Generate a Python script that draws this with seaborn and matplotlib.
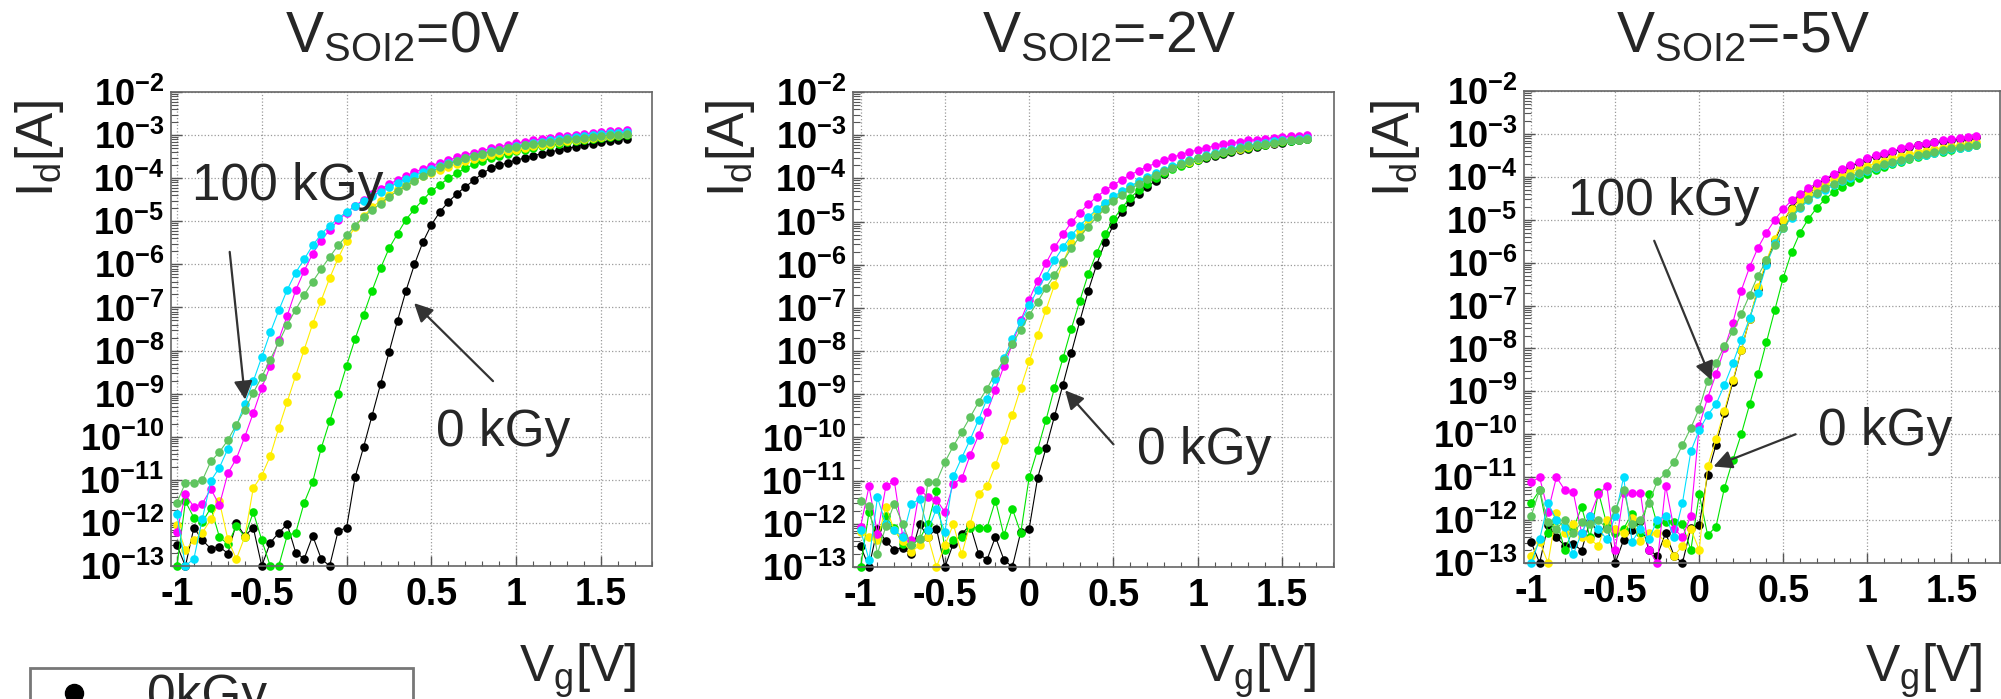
import numpy as np
import pandas as pd
import seaborn as sns
import matplotlib.pyplot as plt
from matplotlib.lines import Line2D
from matplotlib.ticker import LogLocator, MultipleLocator, NullFormatter

# gate sweep, 50 mV steps
vg = np.round(np.arange(-1.0, 1.651, 0.05), 2)

# log10(Id)
# 0 kGy is the same sweep in the first two panels
black_all = [-12.52, -13.0, -12.11, -12.4, -12.6, -12.55, -12.71, -12.01, -12.3, -12.11,
             -13.0, -12.46, -12.23, -12.03, -12.69, -12.83, -12.3, -12.83, -13.0, -12.19,
             -12.11, -10.94, -10.24, -9.51, -8.78, -8.04, -7.31, -6.61, -6.0, -5.48,
             -5.08, -4.78, -4.55, -4.36, -4.2, -4.05, -3.89, -3.77, -3.7, -3.64,
             -3.58, -3.53, -3.48, -3.43, -3.39, -3.35, -3.31, -3.27, -3.23, -3.2,
             -3.17, -3.14, -3.11, -3.08]
# in the third panel the upper part of 0 kGy is hidden under the magenta curve
black_p3 = [-12.52, -13.0, -12.11, -12.4, -12.6, -12.55, -12.71, -12.01, -12.3, -12.11,
            -13.0, -12.46, -12.23, -12.03, -12.69, -12.83, -12.3, -12.83, -13.0, -12.19,
            -12.11, -10.94, -10.24, -9.51, -8.78, -8.04, -7.31, -6.61, -6.0, -5.48,
            -5.05, -4.72, -4.5, -4.33, -4.18, -4.07, -3.95, -3.84, -3.75, -3.67,
            -3.59, -3.52, -3.46, -3.41, -3.36, -3.31, -3.27, -3.23, -3.2, -3.17,
            -3.14, -3.12, -3.1, -3.08]

# V_SOI2 = 0 V
p1_green = [-13.0, -11.5, -11.88, -11.98, -11.65, -12.32, -12.5, -12.07, -12.32, -11.75,
            -12.4, -13.0, -13.0, -12.29, -12.23, -11.53, -11.05, -10.27, -9.64, -9.0,
            -8.35, -7.73, -7.17, -6.61, -6.09, -5.63, -5.29, -4.96, -4.72, -4.5,
            -4.3, -4.15, -4.0, -3.88, -3.77, -3.68, -3.6, -3.54, -3.48, -3.43,
            -3.38, -3.34, -3.3, -3.26, -3.23, -3.2, -3.17, -3.14, -3.11, -3.08,
            -3.06, -3.04, -3.02, -3.0]
p1_yellow = [-12.05, -12.63, -12.4, -12.23, -11.91, -11.5, -12.38, -12.84, -12.32, -11.19,
             -10.9, -10.45, -9.8, -9.19, -8.58, -7.98, -7.38, -6.84, -6.32, -5.86,
             -5.45, -5.13, -4.88, -4.68, -4.52, -4.38, -4.26, -4.15, -4.05, -3.96,
             -3.88, -3.8, -3.73, -3.67, -3.61, -3.56, -3.51, -3.46, -3.42, -3.38,
             -3.34, -3.3, -3.26, -3.23, -3.2, -3.17, -3.14, -3.11, -3.09, -3.06,
             -3.04, -3.02, -3.0, -2.98]
p1_magenta = [-12.2, -11.34, -11.63, -11.55, -11.21, -11.59, -10.85, -10.51, -10.0, -9.45,
              -8.87, -8.35, -7.75, -7.19, -6.6, -6.15, -5.75, -5.45, -5.2, -4.98,
              -4.8, -4.64, -4.5, -4.37, -4.25, -4.14, -4.04, -3.95, -3.86, -3.78,
              -3.71, -3.64, -3.58, -3.52, -3.46, -3.41, -3.36, -3.31, -3.27, -3.23,
              -3.19, -3.15, -3.12, -3.09, -3.06, -3.03, -3.01, -2.99, -2.97, -2.95,
              -2.93, -2.91, -2.9, -2.88]
p1_cyan = [-11.8, -13.0, -12.83, -11.9, -11.02, -10.72, -10.28, -9.76, -9.23, -8.71,
           -8.15, -7.58, -7.07, -6.59, -6.19, -5.88, -5.56, -5.3, -5.1, -4.93,
           -4.78, -4.65, -4.53, -4.42, -4.31, -4.21, -4.11, -4.02, -3.94, -3.86,
           -3.79, -3.72, -3.65, -3.59, -3.53, -3.48, -3.43, -3.38, -3.34, -3.29,
           -3.25, -3.22, -3.18, -3.15, -3.12, -3.09, -3.07, -3.04, -3.02, -3.0,
           -2.98, -2.96, -2.95, -2.93]
p1_100k = [-11.53, -11.07, -11.07, -11.01, -10.57, -10.36, -10.08, -9.72, -9.37, -8.98,
           -8.61, -8.21, -7.81, -7.4, -7.05, -6.71, -6.4, -6.11, -5.83, -5.56,
           -5.33, -5.1, -4.9, -4.74, -4.59, -4.43, -4.3, -4.19, -4.06, -3.95,
           -3.85, -3.75, -3.67, -3.6, -3.54, -3.48, -3.43, -3.39, -3.35, -3.31,
           -3.27, -3.24, -3.21, -3.18, -3.15, -3.13, -3.1, -3.08, -3.06, -3.04,
           -3.02, -3.0, -2.99, -2.97]

# V_SOI2 = -2 V
p2_green = [-13.0, -11.73, -12.3, -11.83, -12.1, -12.47, -12.5, -12.35, -12.0, -11.24,
            -12.6, -12.38, -12.3, -12.09, -12.09, -12.09, -11.46, -12.27, -11.65, -12.21,
            -10.92, -10.28, -9.59, -8.85, -8.17, -7.48, -6.84, -6.22, -5.73, -5.3,
            -4.95, -4.68, -4.45, -4.27, -4.12, -3.99, -3.88, -3.79, -3.71, -3.64,
            -3.57, -3.51, -3.46, -3.41, -3.37, -3.33, -3.29, -3.25, -3.22, -3.19,
            -3.16, -3.13, -3.11, -3.08]
p2_yellow = [-12.19, -12.3, -12.38, -11.6, -12.15, -12.4, -12.65, -12.5, -12.3, -13.0,
             -12.5, -12.01, -12.71, -12.0, -11.3, -11.13, -10.64, -10.07, -9.47, -8.85,
             -8.24, -7.63, -7.04, -6.47, -5.95, -5.5, -5.2, -4.95, -4.75, -4.58,
             -4.45, -4.32, -4.2, -4.09, -3.99, -3.9, -3.82, -3.74, -3.67, -3.61,
             -3.55, -3.49, -3.44, -3.39, -3.35, -3.31, -3.27, -3.23, -3.2, -3.17,
             -3.14, -3.11, -3.09, -3.07]
p2_magenta = [-12.07, -11.13, -12.23, -11.13, -11.01, -12.29, -12.37, -11.21, -11.38, -11.44,
              -11.73, -11.07, -10.95, -10.41, -9.95, -9.41, -8.89, -8.35, -7.84, -7.29,
              -6.81, -6.37, -5.96, -5.6, -5.3, -5.02, -4.8, -4.6, -4.43, -4.28,
              -4.15, -4.03, -3.92, -3.82, -3.73, -3.65, -3.58, -3.51, -3.45, -3.39,
              -3.34, -3.29, -3.25, -3.21, -3.18, -3.15, -3.12, -3.1, -3.08, -3.06,
              -3.04, -3.02, -3.01, -3.0]
p2_cyan = [-12.15, -12.83, -11.39, -12.0, -12.14, -12.3, -11.55, -11.42, -12.15, -11.65,
           -12.19, -10.9, -10.47, -10.05, -9.59, -9.1, -8.64, -8.17, -7.73, -7.32,
           -6.94, -6.58, -6.25, -5.9, -5.6, -5.32, -5.1, -4.9, -4.72, -4.56,
           -4.42, -4.3, -4.18, -4.07, -3.97, -3.88, -3.8, -3.72, -3.65, -3.58,
           -3.52, -3.46, -3.41, -3.36, -3.31, -3.27, -3.23, -3.2, -3.17, -3.14,
           -3.12, -3.1, -3.08, -3.06]
p2_100k = [-11.46, -11.59, -12.69, -12.06, -11.53, -12.01, -12.5, -12.34, -11.03, -11.03,
           -10.57, -10.2, -9.87, -9.53, -9.18, -8.87, -8.51, -8.2, -7.84, -7.5,
           -7.17, -6.86, -6.53, -6.24, -5.93, -5.62, -5.35, -5.12, -4.9, -4.7,
           -4.52, -4.38, -4.25, -4.13, -4.02, -3.92, -3.83, -3.75, -3.67, -3.6,
           -3.54, -3.48, -3.43, -3.38, -3.34, -3.3, -3.26, -3.23, -3.2, -3.17,
           -3.14, -3.12, -3.1, -3.08]

# V_SOI2 = -5 V
p3_green = [-11.6, -11.3, -12.3, -12.0, -12.7, -12.2, -11.7, -12.4, -11.35, -12.1,
            -12.3, -12.2, -11.85, -12.3, -11.4, -12.1, -12.05, -12.05, -12.1, -12.7,
            -11.4, -12.35, -12.15, -11.25, -10.6, -10.0, -9.3, -8.6, -7.85, -7.1,
            -6.35, -5.75, -5.3, -4.98, -4.72, -4.52, -4.36, -4.23, -4.12, -4.02,
            -3.93, -3.85, -3.78, -3.71, -3.65, -3.59, -3.54, -3.49, -3.45, -3.41,
            -3.37, -3.33, -3.3, -3.27]
p3_yellow = [-12.83, -12.5, -13.0, -11.83, -12.3, -12.1, -12.4, -12.45, -12.6, -12.0,
             -12.2, -12.3, -11.95, -12.49, -12.3, -12.3, -12.53, -12.83, -12.6, -12.2,
             -12.7, -10.75, -10.12, -9.45, -8.74, -8.04, -7.31, -6.57, -5.95, -5.45,
             -5.0, -4.75, -4.55, -4.4, -4.27, -4.16, -4.06, -3.97, -3.89, -3.82,
             -3.75, -3.68, -3.62, -3.57, -3.52, -3.47, -3.43, -3.39, -3.35, -3.32,
             -3.29, -3.26, -3.23, -3.2]
p3_magenta = [-11.12, -11.0, -11.8, -11.0, -11.3, -11.35, -12.3, -11.9, -11.4, -11.2,
              -12.7, -11.37, -11.37, -11.37, -12.7, -13.0, -11.2, -12.2, -12.4, -11.9,
              -9.8, -9.15, -8.6, -8.0, -7.4, -6.65, -6.1, -5.65, -5.3, -5.0,
              -4.75, -4.55, -4.4, -4.27, -4.14, -4.04, -3.93, -3.82, -3.73, -3.65,
              -3.57, -3.5, -3.44, -3.39, -3.34, -3.29, -3.25, -3.21, -3.18, -3.15,
              -3.12, -3.1, -3.08, -3.06]
p3_cyan = [-13.0, -12.45, -11.6, -12.0, -12.15, -12.8, -12.3, -11.9, -12.2, -12.45,
           -11.9, -11.0, -12.5, -12.2, -12.45, -12.0, -11.9, -12.4, -11.6, -10.4,
           -9.9, -9.55, -9.3, -8.85, -8.35, -7.8, -7.3, -6.7, -6.05, -5.55,
           -5.2, -4.95, -4.73, -4.55, -4.41, -4.3, -4.2, -4.1, -4.02, -3.94,
           -3.86, -3.79, -3.73, -3.67, -3.62, -3.57, -3.52, -3.48, -3.44, -3.4,
           -3.36, -3.33, -3.3, -3.27]
p3_100k = [-11.9, -11.3, -12.05, -12.2, -12.0, -12.3, -12.05, -12.1, -12.0, -12.2,
           -11.75, -11.3, -12.1, -12.0, -11.6, -11.1, -10.9, -10.65, -10.25, -9.85,
           -9.4, -8.75, -8.35, -7.95, -7.6, -7.2, -6.75, -6.3, -5.95, -5.6,
           -5.2, -4.92, -4.7, -4.52, -4.38, -4.26, -4.16, -4.07, -3.99, -3.91,
           -3.84, -3.77, -3.71, -3.65, -3.6, -3.55, -3.5, -3.46, -3.42, -3.38,
           -3.34, -3.31, -3.28, -3.25]

# titles as plain text, only the subscript goes through mathtext
titles = ["V$_{\\mathregular{SOI2}}$=0V", "V$_{\\mathregular{SOI2}}$=-2V",
          "V$_{\\mathregular{SOI2}}$=-5V"]
order = ["0kGy", "green", "yellow", "magenta", "cyan", "100kGy"]
palette = {"0kGy": "#000000", "green": "#00e400", "yellow": "#ffee00",
           "magenta": "#ff00ff", "cyan": "#00e0ff", "100kGy": "#5fc45f"}

panels = [
    [black_all, p1_green, p1_yellow, p1_magenta, p1_cyan, p1_100k],
    [black_all, p2_green, p2_yellow, p2_magenta, p2_cyan, p2_100k],
    [black_p3, p3_green, p3_yellow, p3_magenta, p3_cyan, p3_100k],
]

# pixel layout of the original canvas (2001 x 699)
W, H = 2001, 699
boxes = [(171, 652, 92, 566), (853, 1334, 92, 567), (1524, 2000, 91, 563)]
xlims = [(-1.035, 1.80), (-1.045, 1.808), (-1.043, 1.79)]
title_x = [285, 982, 1616]
ylab_x = [40, 730, 1395]
xlab_right = [636, 1316, 1982]

# text labels with arrows: (text, x, log y, tail, tip)
notes = [
    [("100 kGy", -0.909, -4.51, (-0.689, -5.71), (-0.598, -9.14)),
     ("0 kGy", 0.529, -10.22, (0.863, -8.71), (0.398, -6.90))],
    [("0 kGy", 0.638, -10.61, (0.50, -10.16), (0.213, -8.91))],
    [("100 kGy", -0.78, -4.90, (-0.268, -5.49), (0.073, -8.74)),
     ("0 kGy", 0.707, -10.25, (0.573, -10.0), (0.085, -10.75))],
]

sns.set_theme(style="white")
plt.rcParams["font.family"] = ["Liberation Sans", "DejaVu Sans"]
plt.rcParams["mathtext.fontset"] = "custom"
plt.rcParams["mathtext.rm"] = "Liberation Sans"
plt.rcParams["mathtext.it"] = "Liberation Sans:italic"
plt.rcParams["mathtext.bf"] = "Liberation Sans:bold"

fig = plt.figure(figsize=(W / 100, H / 100), dpi=100)
fig.patch.set_facecolor("white")

for i, curves in enumerate(panels):
    l, r, t, b = boxes[i]
    ax = fig.add_axes([l / W, (H - b) / H, (r - l) / W, (b - t) / H])
    df = pd.DataFrame({
        "vg": np.tile(vg, len(order)),
        "id": 10.0 ** np.concatenate([np.array(c) for c in curves]),
        "dose": np.repeat(order, len(vg)),
    })
    sns.lineplot(data=df, x="vg", y="id", hue="dose", hue_order=order, palette=palette,
                 marker="o", markersize=6.2, markeredgewidth=0, linewidth=0.8,
                 estimator=None, sort=False, legend=False, ax=ax, clip_on=False)
    ax.set_yscale("log")
    ax.set_xlim(*xlims[i])
    ax.set_ylim(1e-13, 1e-2)

    ax.set_xticks([-1, -0.5, 0, 0.5, 1, 1.5])
    ax.set_xticklabels(["-1", "-0.5", "0", "0.5", "1", "1.5"], fontsize=27, fontweight="bold")
    ax.xaxis.set_minor_locator(MultipleLocator(0.1))
    yt = list(range(-13, -1))
    ax.set_yticks([10.0 ** e for e in yt])
    ax.set_yticklabels([r"$\mathbf{10^{\mathbf{%d}}}$" % e for e in yt], fontsize=26)
    ax.yaxis.set_minor_locator(LogLocator(base=10, subs=np.arange(2, 10), numticks=100))
    ax.yaxis.set_minor_formatter(NullFormatter())

    ax.tick_params(axis="both", which="both", direction="in", colors="#555555",
                   labelcolor="black", bottom=True, left=True, top=False, right=False)
    ax.tick_params(axis="x", which="major", length=7, width=1, pad=8)
    ax.tick_params(axis="x", which="minor", length=3.5, width=0.8)
    ax.tick_params(axis="y", which="major", length=8, width=1, pad=5)
    ax.tick_params(axis="y", which="minor", length=5, width=0.8)

    ax.grid(True, which="major", linestyle=":", color="#9a9a9a", linewidth=0.9)
    ax.set_axisbelow(True)
    for sp in ax.spines.values():
        sp.set_color("#666666")
        sp.set_linewidth(1.2)
    ax.set_xlabel("")
    ax.set_ylabel("")

    for txt, tx, ty, tail, tip in notes[i]:
        ax.text(tx, 10.0 ** ty, txt, fontsize=37, ha="left", va="baseline", zorder=5)
        ax.annotate("", xy=(tip[0], 10.0 ** tip[1]), xytext=(tail[0], 10.0 ** tail[1]),
                    arrowprops=dict(arrowstyle="-|>", color="#333333", lw=1.6,
                                    mutation_scale=28, shrinkA=0, shrinkB=0), zorder=6)

    fig.text(title_x[i] / W, 1 - 52 / H, titles[i], fontsize=41, ha="left", va="baseline")
    fig.text(ylab_x[i] / W, 1 - 100 / H, r"$\mathregular{I_d[A]}$", fontsize=37,
             rotation=90, ha="center", va="top")
    fig.text(xlab_right[i] / W, 1 - 682 / H, r"$\mathregular{V_g[V]}$", fontsize=37,
             ha="right", va="baseline")

# only the top of the legend box fits on the canvas
leg_handle = Line2D([], [], color="black", marker="o", linestyle="none", markersize=13)
leg = fig.legend(handles=[leg_handle], labels=["0kGy"], loc="upper left",
                 bbox_to_anchor=(30 / W, 1 - 668 / H - 0.5, 383 / W, 0.5), mode="expand",
                 borderaxespad=0, frameon=True, fancybox=False, edgecolor="#777777",
                 framealpha=1, fontsize=37, borderpad=0.1, handlelength=1.52,
                 handletextpad=0.66)
leg.get_frame().set_linewidth(2)

fig.savefig("out.png", dpi=100)
